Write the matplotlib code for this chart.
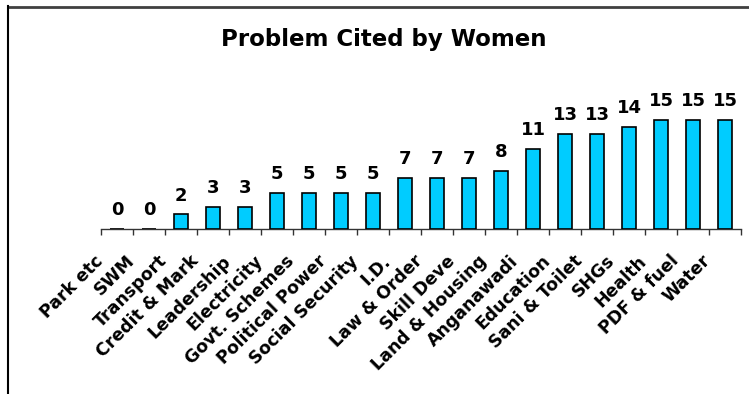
import matplotlib
matplotlib.use("Agg")
import matplotlib.pyplot as plt
from matplotlib.lines import Line2D
import matplotlib.transforms as mtransforms
import numpy as np

categories = ["Park etc", "SWM", "Transport", "Credit & Mark", "Leadership",
              "Electricity", "Govt. Schemes", "Political Power", "Social Security",
              "I.D.", "Law & Order", "Skill Deve", "Land & Housing", "Anganawadi",
              "Education", "Sani & Toilet", "SHGs", "Health", "PDF & fuel", "Water"]
values = [0, 0, 2, 3, 3, 5, 5, 5, 5, 7, 7, 7, 8, 11, 13, 13, 14, 15, 15, 15]
title = "Problem Cited by Women"

plt.rcParams['font.family'] = ['DejaVu Sans']

W, H = 749, 394
fig = plt.figure(figsize=(W / 100, H / 100), dpi=100)
fig.patch.set_facecolor('white')

# plot area in pixel terms
x0, x1 = 101, 741
base_y = 229
px_per_unit = 7.28
ymax = 16
top_y = base_y - ymax * px_per_unit
ax = fig.add_axes([x0 / W, 1 - base_y / H, (x1 - x0) / W, (base_y - top_y) / H])

xs = np.arange(len(categories))
ax.bar(xs, values, width=0.43, color='#00CCFF', edgecolor='black', linewidth=1.2, zorder=3)

for x, v in zip(xs, values):
    ax.annotate(str(v), (x, v), xytext=(0, 10), textcoords='offset points',
                ha='center', va='baseline', fontsize=13, fontweight='bold', color='black')

ax.set_xlim(-0.5, len(categories) - 0.5)
ax.set_ylim(0, ymax)
for s in ['top', 'right', 'left']:
    ax.spines[s].set_visible(False)
ax.spines['bottom'].set_color('#333333')
ax.spines['bottom'].set_linewidth(1.0)
ax.set_yticks([])

ax.set_xticks(xs)
ax.set_xticks(np.arange(len(categories) + 1) - 0.5, minor=True)
ax.tick_params(axis='x', which='major', length=0, pad=21)
ax.tick_params(axis='x', which='minor', length=4, width=1, color='#333333', direction='out')
ax.set_xticklabels(categories, rotation=45, ha='right', va='center',
                   rotation_mode='anchor', fontsize=12.5, fontweight='bold')
shift = mtransforms.ScaledTranslation(-17 / 100, 0, fig.dpi_scale_trans)
for lbl in ax.get_xticklabels():
    lbl.set_transform(lbl.get_transform() + shift)

fig.text(384 / W, 1 - 45.7 / H, title, ha='center', va='baseline',
         fontsize=16.5, fontweight='bold')

# frame lines along the top and left edges
fig.add_artist(Line2D([8 / W, 1], [1 - 6.5 / H, 1 - 6.5 / H], transform=fig.transFigure,
                      color='#404040', linewidth=2.0))
fig.add_artist(Line2D([8 / W, 8 / W], [1 - 6 / H, 0], transform=fig.transFigure,
                      color='black', linewidth=1.5))

fig.savefig("out.png", dpi=100, facecolor='white')
